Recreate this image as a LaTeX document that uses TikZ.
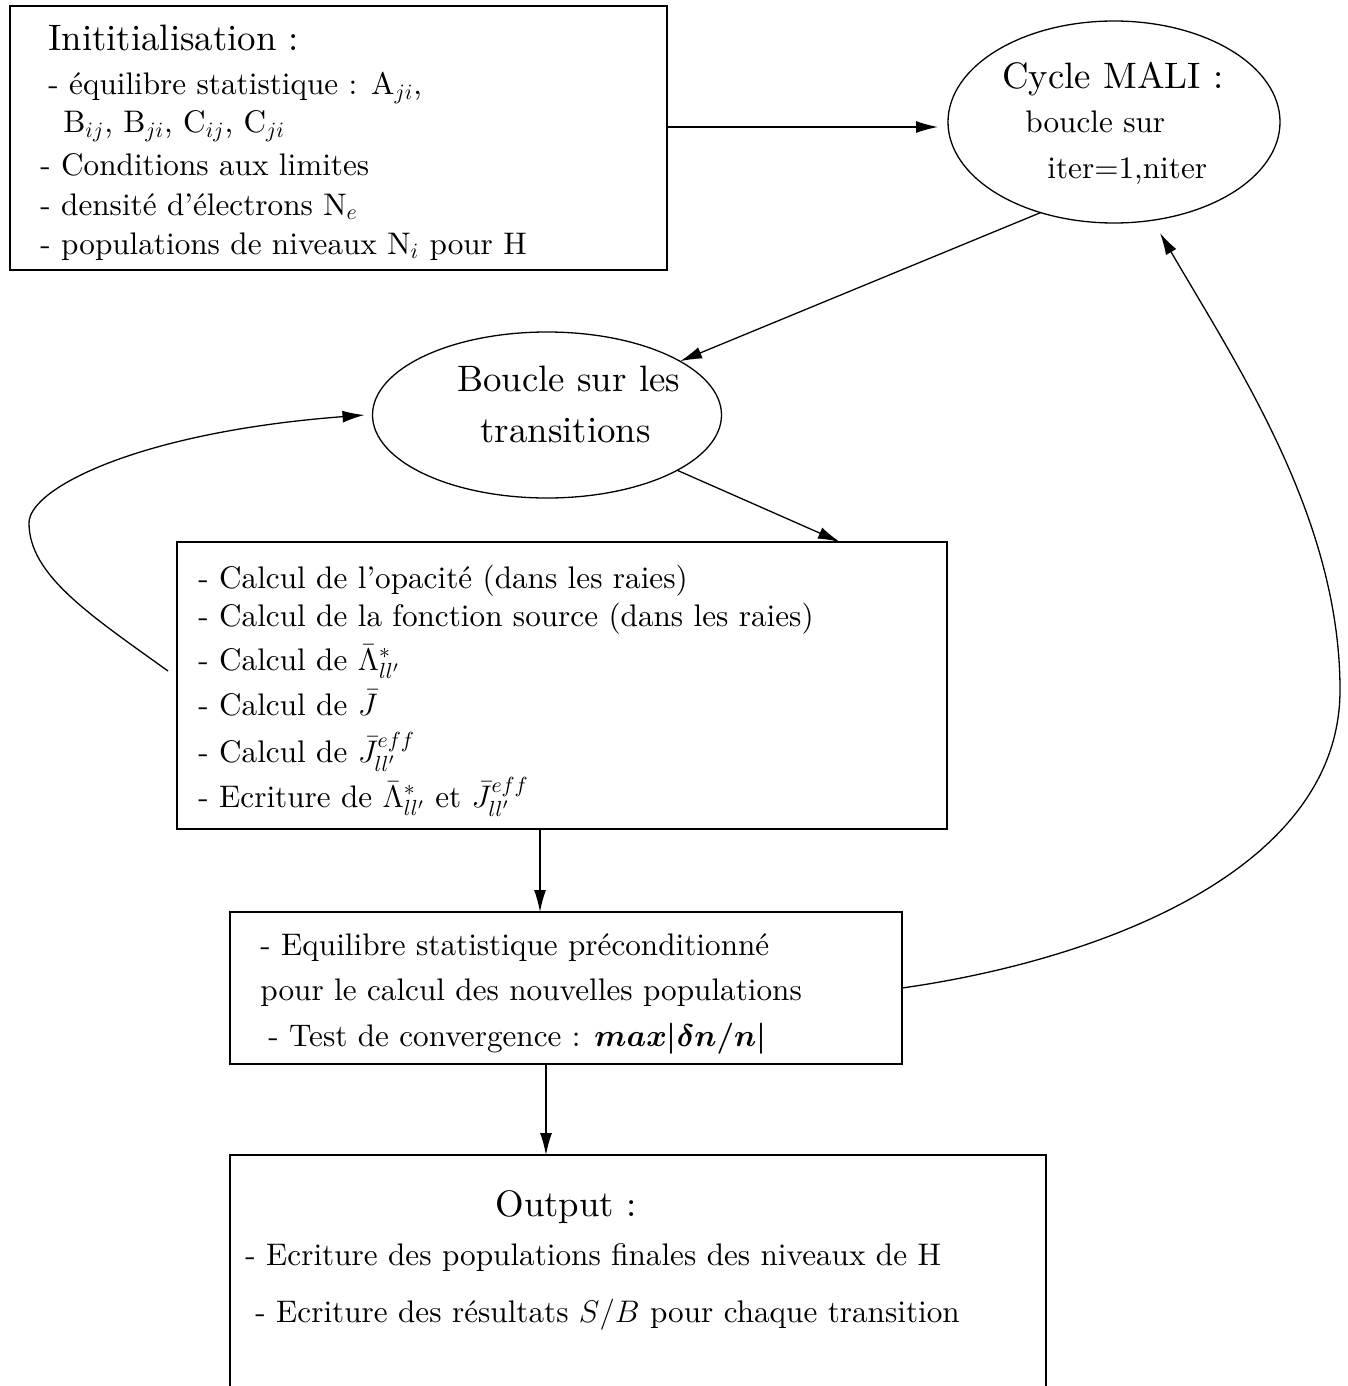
\RequirePackage{fix-cm}
\documentclass[tikz,border=0pt]{standalone}
\usepackage{amsmath}
\usepackage{fontspec}
\setmainfont{lmroman10-regular.otf}[ItalicFont=lmroman10-italic.otf, BoldFont=lmroman10-bold.otf, BoldItalicFont=lmroman10-bolditalic.otf]
\usetikzlibrary{arrows.meta,shapes.geometric}
\begin{document}
\begin{tikzpicture}[x=0.5pt,y=-0.5pt,
  box/.style={draw, line width=0.65pt, rectangle, inner sep=0pt, outer sep=0pt},
  oval/.style={draw, line width=0.65pt, ellipse, inner sep=0pt, outer sep=0pt},
  arr/.style={-{Latex[length=11pt,width=6pt]}, line width=0.65pt},
  conn/.style={line width=0.65pt},
  txt/.style={anchor=base west, inner sep=0pt, font=\fontsize{15.6pt}{19pt}\selectfont},
  ttl/.style={anchor=base west, inner sep=0pt, font=\fontsize{18.4pt}{22pt}\selectfont}]
\useasboundingbox (0,0) rectangle (1348,1386);
\fill[white] (0,0) rectangle (1348,1386);

% boxes and ovals
\node[box, minimum width=328.5pt, minimum height=132pt] (init) at (338.5,138) {};
\node[oval, minimum width=166pt, minimum height=101pt] (cyc) at (1114,122) {};
\node[oval, minimum width=174.5pt, minimum height=83pt] (bou) at (547,415) {};
\node[box, minimum width=385pt, minimum height=143.5pt] (mid) at (562,685.5) {};
\node[box, minimum width=336pt, minimum height=76pt] (eq) at (566,988) {};
\node[inner sep=0pt, outer sep=0pt, minimum width=408pt, minimum height=120pt] (out) at (638,1275) {};
\draw[conn] (out.south west) -- (out.north west) -- (out.north east) -- (out.south east);

% texts: initialisation
\node[ttl] (i0) at (48,51) {Inititialisation :};
\node[txt] (i1) at (48,95) {- équilibre statistique : A$_{ji}$,};
\node[txt] (i2) at (63,133) {B$_{ij}$, B$_{ji}$, C$_{ij}$, C$_{ji}$};
\node[txt] (i3) at (40,176) {- Conditions aux limites};
\node[txt] (i4) at (40,215) {- densité d'électrons N$_e$};
\node[txt] (i5) at (40,254) {- populations de niveaux N$_i$ pour H};

% cycle
\node[ttl] (c0) at (1002,89) {Cycle MALI :};
\node[txt] (c1) at (1025,133) {boucle sur};
\node[txt] (c2) at (1047,178) {iter=1,niter};

% boucle
\node[ttl] (b0) at (457,391) {Boucle sur les};
\node[ttl] (b1) at (480,442) {transitions};

% middle box
\node[txt] (m1) at (198,588) {- Calcul de l'opacité (dans les raies)};
\node[txt] (m2) at (198,626) {- Calcul de la fonction source (dans les raies)};
\node[txt] (m3) at (198,670) {- Calcul de $\bar{\Lambda}^*_{ll'}$};
\node[txt] (m4) at (198,715) {- Calcul de $\bar{J}$};
\node[txt] (m5) at (198,762) {- Calcul de $\bar{J}^{eff}_{ll'}$};
\node[txt] (m6) at (198,807) {- Ecriture de $\bar{\Lambda}^*_{ll'}$ et $\bar{J}^{eff}_{ll'}$};

% eq box
\node[txt] (e1) at (260,955) {- Equilibre statistique préconditionné};
\node[txt] (e2) at (260,1000) {pour le calcul des nouvelles populations};
\node[txt] (e3) at (268,1046) {- Test de convergence : $\boldsymbol{max|\delta n/n|}$};

% output
\node[ttl] (o0) at (495,1216) {Output :};
\node[txt] (o1) at (245,1265) {- Ecriture des populations finales des niveaux de H};
\node[txt] (o2) at (255,1322) {- Ecriture des résultats $S/B$ pour chaque transition};

% connectors
\coordinate (a1s) at ([yshift=5.5pt]init.east);
\coordinate (a1e) at ([shift={(-5pt,-2.5pt)}]cyc.west);
\draw[arr] (a1s) -- (a1s -| a1e);

\draw[arr] (cyc.231) -- (bou.22);

\coordinate (a3e) at ([xshift=139pt]mid.north);
\draw[arr] (bou.-23) -- (a3e);

\coordinate (lp) at ([shift={(-4.5pt,7.25pt)}]mid.west);
\coordinate (lpe) at ([xshift=-4pt]bou.west);
\draw[arr] (lp) .. controls (90,615) and (29,575) .. (29,523)
  .. controls (29,488) and (140,432) .. (lpe);

\coordinate (a5s) at ([xshift=-11pt]mid.south);
\draw[arr] (a5s) -- (a5s |- eq.north);

\coordinate (a6s) at ([xshift=-10pt]eq.south);
\draw[arr] (a6s) -- (a6s |- out.north);

\coordinate (a7e) at (1160,233);
\draw[arr] (eq.east) .. controls (1100,960) and (1340,870) .. (1340,690)
  .. controls (1340,520) and (1240,370) .. (a7e);
\end{tikzpicture}
\end{document}
